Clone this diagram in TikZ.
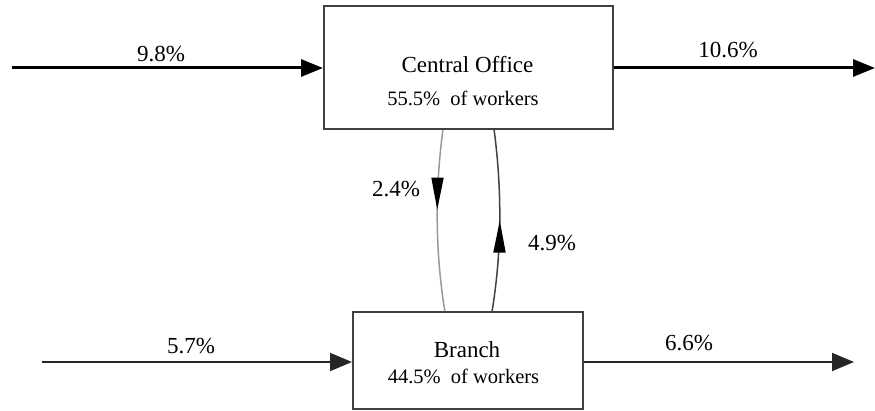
\documentclass[tikz,border=0pt]{standalone}
\usepackage{fontspec}
\newfontfamily\figserif{Liberation Serif}
\usetikzlibrary{arrows.meta,calc,decorations.markings}
\begin{document}
\begin{tikzpicture}[x=1pt,y=-1pt,
  box/.style={draw=black!75,line width=2pt,fill=white,inner sep=0pt},
  lbl/.style={font={\fontsize{23}{26}\selectfont\figserif},anchor=base,inner sep=0pt},
  sublbl/.style={lbl,font={\fontsize{20.5}{24}\selectfont\figserif}},
  thickflow/.style={line width=3pt,-{Triangle[length=22pt,width=17pt]}},
  thinflow/.style={line width=2pt,draw=black!85,-{Triangle[length=22pt,width=18pt]}},
  loopflow/.style={line width=1.5pt}]
\useasboundingbox (0,0) rectangle (875,411);
% boxes
\node[box,minimum width=289pt,minimum height=123pt] (co) at (468.5,67.5) {};
\node[box,minimum width=230pt,minimum height=97pt] (br) at (468,360.5) {};
% box texts
\node[lbl] (cot) at (467.5,73) {Central Office};
\node[sublbl] (cos) at (463,106) {55.5\%\ \ of workers};
\node[lbl] (brt) at (467,358) {Branch};
\node[sublbl] (brs) at (463.5,383) {44.5\%\ \ of workers};
% free ends
\coordinate (inA) at (12,68);
\coordinate (outA) at (875,68);
\coordinate (inB) at (42,362);
\coordinate (outB) at (854,362);
% flows
\draw[thickflow] (inA) -- (inA -| co.west);
\draw[thickflow] (co.east |- outA) -- (outA);
\draw[thinflow] (inB) -- (inB -| br.west);
\draw[thinflow] (br.east |- outB) -- (outB);
% loop flows
\coordinate (cA) at ($(co.south west)!0.412!(co.south east)$);
\coordinate (bA) at ($(br.north west)!0.40!(br.north east)$);
\coordinate (cB) at ($(co.south west)!0.588!(co.south east)$);
\coordinate (bB) at ($(br.north west)!0.604!(br.north east)$);
\draw[loopflow,draw=black!40,
  postaction={decorate,decoration={markings,mark=at position 0.44 with {\arrow[black]{Triangle[length=32pt,width=12pt]}}}}]
  (cA) .. controls (435,190) and (435,250) .. (bA);
\draw[loopflow,draw=black!75,
  postaction={decorate,decoration={markings,mark=at position 0.50 with {\arrow[black]{Triangle[length=32pt,width=12pt]}}}}]
  (bB) .. controls (502,250) and (502,190) .. (cB);
% flow labels
\node[lbl] (l1) at (161,62) {9.8\%};
\node[lbl] (l2) at (728,58) {10.6\%};
\node[lbl] (l3) at (191,353) {5.7\%};
\node[lbl] (l4) at (689,350) {6.6\%};
\node[lbl] (l5) at (396,197) {2.4\%};
\node[lbl] (l6) at (552,251) {4.9\%};
\end{tikzpicture}
\end{document}
